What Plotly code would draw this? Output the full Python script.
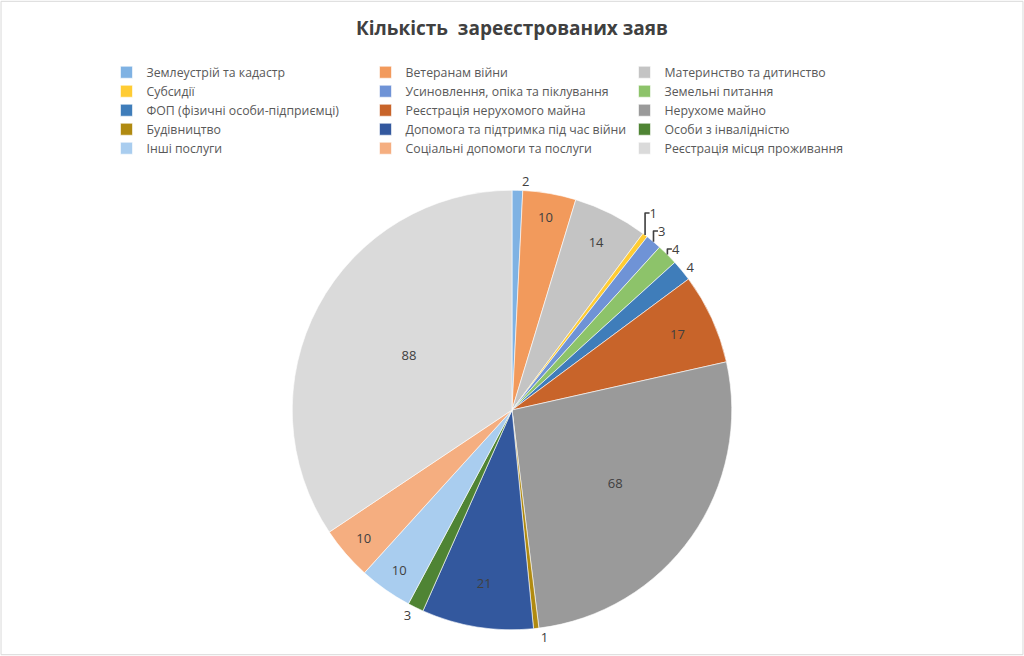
import plotly.graph_objects as go

categories = [
    "Землеустрій та кадастр", "Ветеранам війни", "Материнство та дитинство",
    "Субсидії", "Усиновлення, опіка та піклування", "Земельні питання",
    "ФОП (фізичні особи-підприємці)", "Реєстрація нерухомого майна", "Нерухоме майно",
    "Будівництво", "Допомога та підтримка під час війни", "Особи з інвалідністю",
    "Інші послуги", "Соціальні допомоги та послуги", "Реєстрація місця проживання",
]
values = [2, 10, 14, 1, 3, 4, 4, 17, 68, 1, 21, 3, 10, 10, 88]
colors = [
    "#7FB2E3", "#F29A5C", "#C4C4C4", "#FFCC33", "#6F93D6", "#8DC36A",
    "#3F7DBA", "#C8642A", "#9A9A9A", "#B08A10", "#33589E", "#4F8434",
    "#A9CDEF", "#F5AE80", "#DADADA",
]

text_pos = ["outside" if v <= 4 else "inside" for v in values]

fig = go.Figure(go.Pie(
    labels=categories,
    values=values,
    sort=False,
    direction="clockwise",
    rotation=0,
    marker=dict(colors=colors, line=dict(color="#FFFFFF", width=0.6)),
    textinfo="value",
    textposition=text_pos,
    insidetextorientation="horizontal",
    insidetextfont=dict(color="#404040", size=13),
    outsidetextfont=dict(color="#404040", size=13),
    domain=dict(x=[0.2, 0.8], y=[0.04, 0.71]),
    hoverinfo="label+value",
))

fig.update_layout(
    width=1024, height=656,
    margin=dict(l=0, r=0, t=0, b=0),
    paper_bgcolor="#FFFFFF",
    font=dict(family="Open Sans, Noto Sans, sans-serif", color="#595959", size=12.3),
    title=dict(
        text="<b>Кількість  зареєстрованих заяв</b>",
        x=0.5, xanchor="center", y=0.957, yanchor="middle",
        font=dict(size=19, color="#404040"),
    ),
    legend=dict(
        orientation="h",
        x=0.104, xanchor="left", y=0.912, yanchor="top",
        entrywidth=214, entrywidthmode="pixels",
        font=dict(size=12.3, color="#595959"),
        itemclick=False,
    ),
    shapes=[dict(type="rect", xref="paper", yref="paper", x0=0.001, y0=0.002,
                 x1=0.999, y1=0.998, line=dict(color="#D9D9D9", width=1))],
)

fig.write_html("out.html", config={"displayModeBar": False},
               post_script="document.body.style.margin='0';")
